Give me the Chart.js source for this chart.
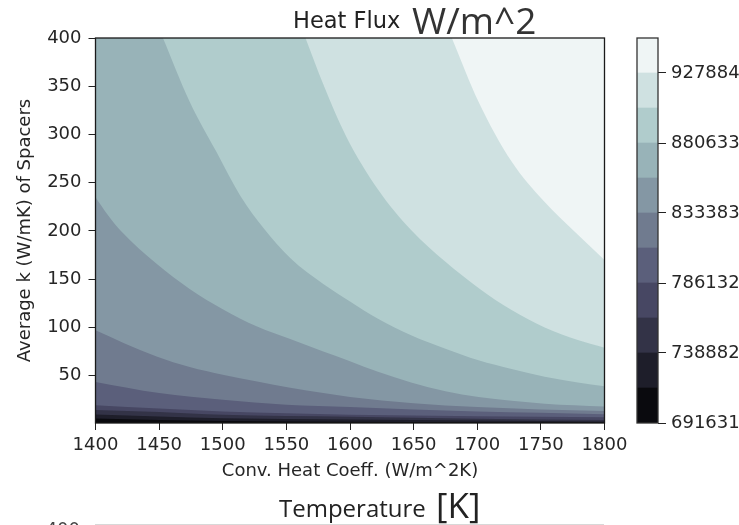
<!DOCTYPE html>
<html><head><meta charset="utf-8">
<script src="https://cdn.jsdelivr.net/npm/chart.js@4.4.0/dist/chart.umd.min.js"></script>
<style>
html,body{margin:0;padding:0;background:#fff;overflow:hidden;}
#wrap{position:relative;width:739px;height:525px;overflow:hidden;background:#fff;}
#main{position:absolute;left:0;top:0;}
#cbar{position:absolute;left:600px;top:0;}
#txt{position:absolute;left:0;top:0;pointer-events:none;}
</style></head><body>
<div id="wrap">
<canvas id="main" width="739" height="525"></canvas>
<canvas id="cbar" width="139" height="525"></canvas>
<svg id="txt" width="739" height="525">
  <text x="293" y="27.5" font-family="DejaVu Sans" font-size="22.5" fill="#222">Heat Flux</text>
  <text x="412" y="34" font-family="Open Sans" font-size="37" fill="#333">W/m^2</text>
  <text x="279" y="517" font-family="Open Sans" font-size="24" fill="#222">Temperature</text>
  <text x="436" y="518" font-family="Open Sans" font-size="35" fill="#222">[K]</text>
  <text x="80" y="535" text-anchor="end" font-family="DejaVu Sans" font-size="18" fill="#444">400</text>
  <line x1="95" y1="524.5" x2="604" y2="524.5" stroke="#d8d8d8" stroke-width="1"/>
</svg>
</div>
<script>
// ---- data ----
const xTicks = [1400, 1450, 1500, 1550, 1600, 1650, 1700, 1750, 1800];
const yTicks = [50, 100, 150, 200, 250, 300, 350, 400];
const levels = [691631, 715256, 738882, 762507, 786132, 809758, 833383, 857008, 880633, 904259, 927884, 951509];
const cbTicks = [691631, 738882, 786132, 833383, 880633, 927884];

// contour boundaries [h, k] between consecutive bands
const baseLine   = [[1400, 1], [1800, 1]];
const boundary1  = [[1400, 5.7], [1450, 4.1], [1500, 3.1], [1600, 2.3], [1700, 1.8], [1800, 1.6]];
const boundary2  = [[1400, 9.8], [1450, 7.7], [1500, 6], [1600, 4.6], [1700, 3.5], [1800, 2.6]];
const boundary3  = [[1400, 14.5], [1450, 12.4], [1500, 9.5], [1600, 7.5], [1700, 5.5], [1800, 4]];
const boundary4  = [[1400, 19.5], [1450, 16], [1500, 13], [1550, 11], [1600, 9.5], [1700, 8], [1800, 7]];
const boundary5  = [[1400, 43.5], [1450, 32], [1500, 25], [1550, 20], [1600, 17.5], [1650, 15], [1700, 13], [1750, 11.5], [1800, 10]];
const boundary6  = [[1400, 97], [1422, 84], [1448, 70], [1474, 59], [1500, 51], [1527, 44], [1553, 37.5], [1579, 32], [1600, 28], [1650, 21.5], [1700, 17.5], [1750, 15], [1800, 13.5]];
const boundary7  = [[1400, 235], [1410, 216], [1420, 200], [1448, 166], [1474, 140], [1500, 119], [1527, 101], [1553, 88], [1579, 75], [1600, 65], [1622, 54], [1648, 43], [1675, 34], [1701, 28], [1727, 24], [1753, 21], [1800, 18]];
const boundary8  = [[1453, 400], [1474, 334], [1495, 282], [1514, 236], [1532, 203], [1553, 172], [1579, 145], [1600, 127], [1622, 109], [1648, 92], [1675, 78], [1701, 66], [1727, 57], [1753, 49], [1779, 43], [1800, 39]];
const boundary9  = [[1565, 400], [1579, 352], [1597, 298], [1622, 243], [1648, 201], [1675, 168], [1701, 141], [1727, 118], [1753, 100], [1779, 87], [1800, 79]];
const boundary10 = [[1680, 400], [1701, 334], [1727, 272], [1753, 230], [1776, 200], [1800, 170]];

// band colours (bone colormap)
const bandColors = ['rgb(10,10,14)', 'rgb(30,30,42)', 'rgb(51,51,71)', 'rgb(71,71,99)', 'rgb(91,95,123)',
  'rgb(112,123,143)', 'rgb(132,151,164)', 'rgb(152,179,184)', 'rgb(176,204,204)', 'rgb(207,225,225)', 'rgb(239,245,245)'];

Chart.defaults.font.family = "'DejaVu Sans', sans-serif";
const txtColor = '#262626';

function framePlugin(color, lw) {
  return { id: 'frame', afterDatasetsDraw(chart) {
    const { ctx, chartArea: a } = chart;
    ctx.save(); ctx.strokeStyle = color; ctx.lineWidth = lw;
    ctx.strokeRect(a.left, a.top, a.right - a.left, a.bottom - a.top);
    ctx.restore();
  }};
}

const boundaries = [boundary1, boundary2, boundary3, boundary4, boundary5, boundary6, boundary7, boundary8, boundary9, boundary10];
const lineCommon = { borderColor: 'rgba(0,0,0,0)', borderWidth: 0, pointRadius: 0, fill: 'end', cubicInterpolationMode: 'monotone' };
const datasets = [Object.assign({ data: baseLine.map(([x, y]) => ({ x, y })), backgroundColor: bandColors[0], order: 20 }, lineCommon)];
boundaries.forEach((b, i) => {
  datasets.push(Object.assign({ data: b.map(([x, y]) => ({ x, y })), backgroundColor: bandColors[i + 1], order: 19 - i }, lineCommon));
});

new Chart(document.getElementById('main'), {
  type: 'line',
  data: { datasets },
  options: {
    responsive: false, animation: false,
    layout: { padding: { left: 0, right: 134.5, top: 38, bottom: 40 } },
    plugins: { legend: { display: false }, tooltip: { enabled: false } },
    scales: {
      x: {
        type: 'linear', min: 1400, max: 1800,
        afterBuildTicks: s => { s.ticks = xTicks.map(v => ({ value: v })); },
        afterFit: s => { s.height = 62; },
        ticks: { font: { size: 18 }, color: txtColor, padding: 5, maxRotation: 0, autoSkip: false, callback: v => String(v) },
        grid: { drawOnChartArea: false, tickLength: 7, color: '#222' },
        border: { display: false },
        title: { display: true, text: 'Conv. Heat Coeff. (W/m^2K)', font: { size: 18 }, color: txtColor, padding: { top: 0, bottom: 3 } }
      },
      y: {
        type: 'linear', min: 1, max: 400,
        afterBuildTicks: s => { s.ticks = yTicks.map(v => ({ value: v })); },
        afterFit: s => { s.width = 95.5; },
        ticks: { font: { size: 18 }, color: txtColor, padding: 7, callback: v => String(v) },
        grid: { drawOnChartArea: false, tickLength: 7, color: '#222' },
        border: { display: false },
        title: { display: true, text: 'Average k (W/mK) of Spacers', font: { size: 18 }, color: txtColor, padding: { top: 14.5, bottom: 0 } }
      }
    }
  },
  plugins: [framePlugin('#1a1a1a', 1.3)]
});

new Chart(document.getElementById('cbar'), {
  type: 'bar',
  data: {
    labels: [''],
    datasets: bandColors.map((c, i) => ({ data: [[levels[i], levels[i + 1]]], backgroundColor: c, borderWidth: 0, grouped: false, barPercentage: 1, categoryPercentage: 1 }))
  },
  options: {
    responsive: false, animation: false,
    layout: { padding: { left: 37, right: 0, top: 38, bottom: 102 } },
    plugins: { legend: { display: false }, tooltip: { enabled: false } },
    scales: {
      x: { display: false },
      y: {
        position: 'right', min: levels[0], max: levels[levels.length - 1],
        afterBuildTicks: s => { s.ticks = cbTicks.map(v => ({ value: v })); },
        afterFit: s => { s.width = 81; },
        ticks: { font: { size: 18 }, color: txtColor, padding: 5, callback: v => String(v) },
        grid: { drawOnChartArea: false, tickLength: 8, color: '#222' },
        border: { display: false }
      }
    }
  },
  plugins: [framePlugin('#333', 1.3)]
});
</script>
</body></html>
